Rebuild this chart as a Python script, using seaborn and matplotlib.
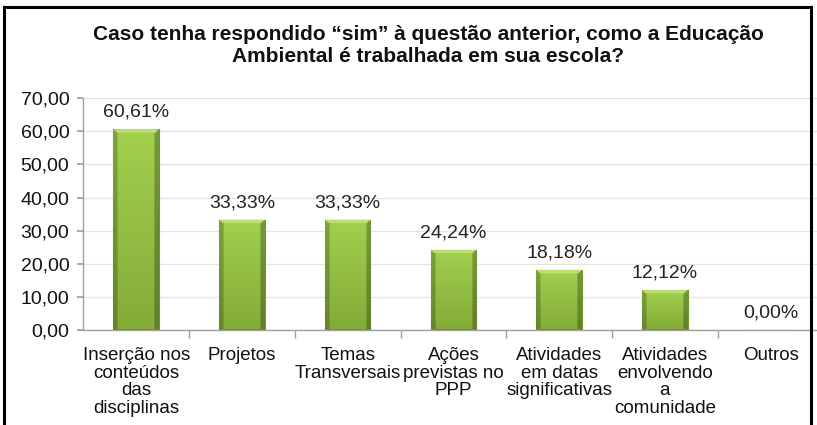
import matplotlib
matplotlib.use("Agg")
import matplotlib.pyplot as plt
import numpy as np
import pandas as pd
import seaborn as sns
from matplotlib.colors import to_rgb
from matplotlib.patches import Polygon, Rectangle

categories = [
    "Inserção nos\nconteúdos\ndas\ndisciplinas",
    "Projetos",
    "Temas\nTransversais",
    "Ações\nprevistas no\nPPP",
    "Atividades\nem datas\nsignificativas",
    "Atividades\nenvolvendo\na\ncomunidade",
    "Outros",
]
values = [60.61, 33.33, 33.33, 24.24, 18.18, 12.12, 0.00]
y_ticks = [0, 10, 20, 30, 40, 50, 60, 70]
title = "Caso tenha respondido \u201csim\u201d à questão anterior, como a Educação\nAmbiental é trabalhada em sua escola?"

df = pd.DataFrame({"categoria": categories, "valor": values})

sns.set_theme(style="white")
plt.rcParams["font.family"] = ["Liberation Sans", "DejaVu Sans"]

fig = plt.figure(figsize=(8.17, 4.25), dpi=100)
ax = fig.add_axes([0.102, 0.223, 0.906, 0.546])

sns.barplot(data=df, x="categoria", y="valor", color="#93BF44", width=0.43,
            edgecolor="#6E9628", linewidth=0.8, ax=ax, zorder=3)

# bevelled gradient look: lighter at the top, darker sides
top_c = np.array(to_rgb("#A2D04E"))
bot_c = np.array(to_rgb("#84AB38"))
ny, nx = 80, 40
t = np.linspace(0, 1, ny)[:, None, None]          # 0 = top row
base = top_c * (1 - t) + bot_c * t
xs = np.linspace(0, 1, nx)
side = np.ones(nx)
side[xs < 0.08] = 0.78
side[xs > 0.92] = 0.74
shade = base * side[None, :, None]
for bar in ax.patches:
    x0, w, h = bar.get_x(), bar.get_width(), bar.get_height()
    if h <= 0:
        continue
    im = ax.imshow(np.clip(shade, 0, 1), aspect="auto", extent=[x0, x0 + w, 0, h],
                   zorder=3.5, interpolation="bilinear")
    im.set_clip_path(bar)
    bev = 1.0
    dx = w * 0.08
    ax.add_patch(Polygon([(x0, h), (x0 + w, h), (x0 + w - dx, h - bev), (x0 + dx, h - bev)],
                         closed=True, facecolor="#BCE070", edgecolor="none", zorder=3.6))
    ax.add_patch(Rectangle((x0, 0), w, 0.5, facecolor="#6E9628", edgecolor="none", zorder=3.6))

for i, v in enumerate(values):
    ax.text(i, v + 2.6, f"{v:.2f}%".replace(".", ","), ha="center", va="bottom",
            fontsize=14, color="#222222", zorder=5)

ax.set_ylim(0, 70)
ax.set_xlim(-0.5, len(categories) - 0.5)
ax.set_yticks(y_ticks)
ax.set_yticklabels([f"{t:.2f}".replace(".", ",") for t in y_ticks], fontsize=14,
                   color="#111111")
ax.yaxis.grid(True, color="#E6E6D8", linewidth=1, zorder=0)
ax.set_xlabel("")
ax.set_ylabel("")

ax.set_xticks(range(len(categories)))
ax.set_xticklabels(categories, fontsize=13.5, color="#111111", linespacing=1.05)
ax.tick_params(axis="x", length=0, pad=12)
ax.set_xticks(np.arange(0.5, len(categories) - 0.5, 1), minor=True)
ax.tick_params(axis="x", which="minor", length=6, color="#A0A0A0", width=1, bottom=True)
ax.tick_params(axis="y", length=4, color="#A0A0A0", left=True, pad=6)

for side_name in ["top", "right"]:
    ax.spines[side_name].set_visible(False)
for side_name in ["left", "bottom"]:
    ax.spines[side_name].set_color("#A0A0A0")
    ax.spines[side_name].set_linewidth(1)

fig.text(0.524, 0.893, title, ha="center", va="center", fontsize=15,
         fontweight="bold", color="#111111", linespacing=1.25)

fig.add_artist(Rectangle((0.005, -0.02), 0.988, 1.003, transform=fig.transFigure,
                         fill=False, edgecolor="black", linewidth=2.2, zorder=10))

fig.savefig("out.png", dpi=100)
